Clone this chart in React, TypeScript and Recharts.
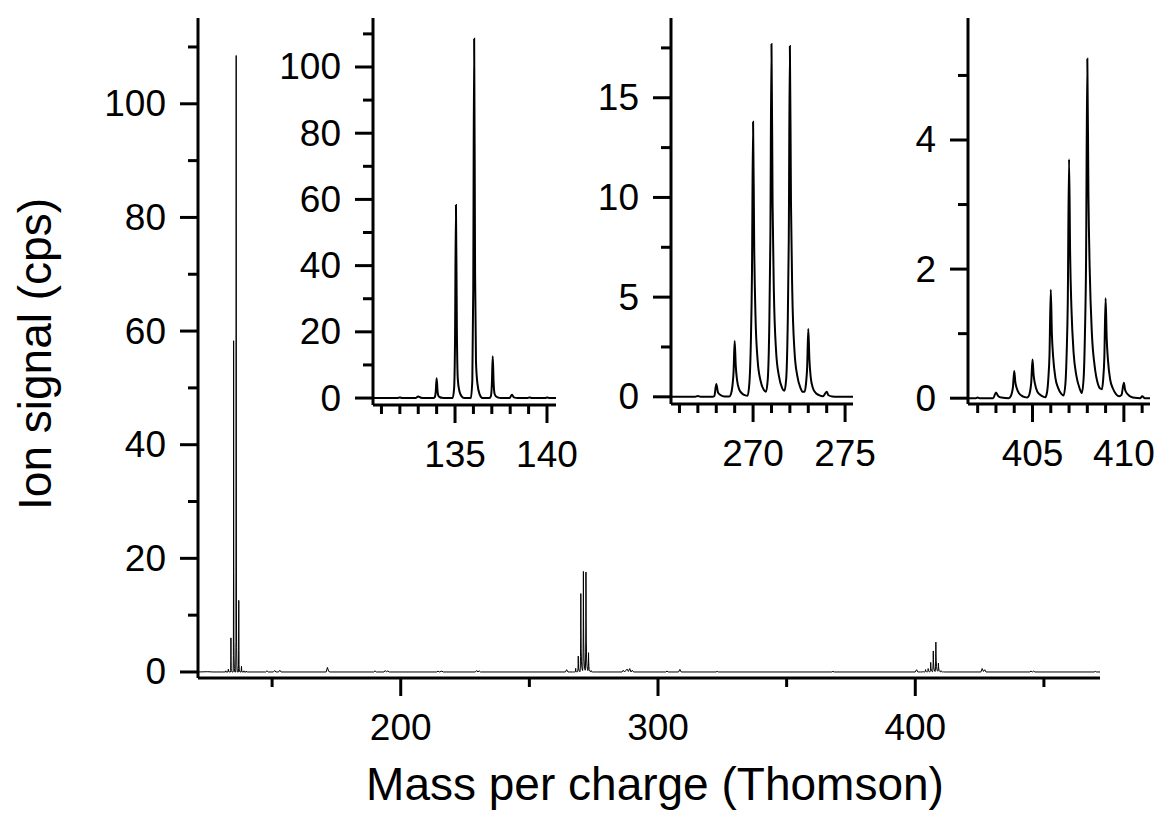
import React from 'react';
import { LineChart, Line, XAxis, YAxis, Label } from 'recharts';

const FONT = '"Liberation Sans", Arial, Helvetica, sans-serif';
const TICK_FS = 37;
const TITLE_FS = 46;

type Pt = [number, number];

// ---- Spectrum data: [mass per charge, ion signal (cps)] ----
const noiseLow: Pt[] = [[121.2, 0], [125, 0.05], [127, 0], [130.4, 0]];

const cluster135: Pt[] = [
  [130.5, 0], [131.85, 0], [132, 0.2], [132.15, 0],
  [132.85, 0], [133, 0.5], [133.15, 0.1], [133.3, 0],
  [133.82, 0], [133.9, 0.3], [133.95, 1.8], [134, 6.0], [134.05, 2.1], [134.1, 0.6], [134.18, 0.24], [134.3, 0.06], [134.45, 0],
  [134.87, 0], [134.95, 2.9], [135.0, 17.5], [135.05, 58.3], [135.1, 20.4], [135.15, 5.8], [135.23, 2.3], [135.35, 0.6], [135.5, 0],
  [135.86, 0], [135.94, 5.4], [135.99, 32.6], [136.04, 108.5], [136.09, 38.0], [136.14, 10.9], [136.22, 4.3], [136.34, 1.1], [136.49, 0],
  [136.87, 0], [136.95, 0.6], [137.0, 3.8], [137.05, 12.6], [137.1, 4.4], [137.15, 1.3], [137.23, 0.5], [137.35, 0.13], [137.5, 0],
  [137.95, 0], [138.1, 1.0], [138.2, 0.2], [138.4, 0],
  [138.95, 0], [139.05, 0.2], [139.2, 0],
  [139.9, 0], [140.0, 0.15], [140.15, 0], [140.5, 0],
];

const noiseMid1: Pt[] = [
  [141, 0], [147.5, 0], [148, 0.2], [148.5, 0], [150.5, 0], [151, 0.25], [151.5, 0], [152.5, 0], [153, 0.3], [153.5, 0],
  [171, 0], [171.5, 0.8], [172, 0.1], [172.5, 0], [189.5, 0], [190, 0.2], [190.5, 0], [193.5, 0], [194, 0.25], [194.5, 0],
  [195, 0.2], [195.5, 0], [214, 0], [214.5, 0.15], [215, 0], [216, 0.15], [216.5, 0], [229, 0], [229.5, 0.25], [230, 0],
  [230.5, 0.2], [231, 0], [264, 0], [264.5, 0.4], [265, 0],
];

const cluster270: Pt[] = [
  [265.5, 0], [266.85, 0], [267, 0.04], [267.15, 0],
  [267.8, 0], [267.9, 0.05], [268, 0.64], [268.1, 0.2], [268.25, 0.08], [268.45, 0.02],
  [268.7, 0.01], [268.8, 0.14], [268.88, 0.56], [268.94, 1.26], [269, 2.8], [269.06, 1.54], [269.13, 0.84], [269.25, 0.36], [269.4, 0.17], [269.58, 0.07],
  [269.7, 0.05], [269.8, 0.7], [269.88, 2.76], [269.94, 6.2], [270, 13.8], [270.06, 7.6], [270.13, 4.1], [270.25, 1.8], [270.4, 0.83], [270.58, 0.35],
  [270.7, 0.25], [270.8, 0.9], [270.88, 3.5], [270.94, 8.0], [271, 17.7], [271.06, 9.7], [271.13, 5.3], [271.25, 2.3], [271.4, 1.06], [271.58, 0.44],
  [271.7, 0.3], [271.8, 0.9], [271.88, 3.5], [271.94, 7.9], [272, 17.6], [272.06, 9.7], [272.13, 5.3], [272.25, 2.3], [272.4, 1.06], [272.58, 0.44],
  [272.7, 0.25], [272.8, 0.25], [272.88, 0.7], [272.94, 1.5], [273, 3.4], [273.06, 1.9], [273.13, 1.0], [273.25, 0.44], [273.4, 0.2], [273.58, 0.09],
  [273.8, 0.03], [274, 0.25], [274.1, 0.08], [274.3, 0.02], [274.6, 0], [275.5, 0],
];

const noiseMid2: Pt[] = [
  [276, 0], [286, 0], [286.5, 0.3], [287, 0], [288, 0.5], [288.5, 0.1], [289, 0.6], [289.5, 0], [290, 0.3], [290.5, 0],
  [303, 0], [303.5, 0.15], [304, 0], [308, 0], [308.5, 0.45], [309, 0], [322.5, 0], [323, 0.1], [323.5, 0],
  [367.5, 0], [368, 0.1], [368.5, 0], [400, 0], [400.5, 0.4], [401, 0],
];

const cluster405: Pt[] = [
  [401.5, 0], [401.9, 0], [402, 0.01], [402.1, 0],
  [402.85, 0], [403, 0.09], [403.13, 0.03], [403.3, 0.01],
  [403.7, 0], [403.8, 0.025], [403.87, 0.08], [403.93, 0.17], [404, 0.42], [404.06, 0.25], [404.13, 0.16], [404.25, 0.08], [404.4, 0.04], [404.58, 0.017],
  [404.7, 0.01], [404.8, 0.036], [404.87, 0.11], [404.93, 0.24], [405, 0.6], [405.06, 0.36], [405.13, 0.23], [405.25, 0.11], [405.4, 0.057], [405.58, 0.024],
  [405.7, 0.015], [405.8, 0.1], [405.87, 0.32], [405.93, 0.67], [406, 1.68], [406.06, 1.0], [406.13, 0.64], [406.25, 0.32], [406.4, 0.16], [406.58, 0.067],
  [406.7, 0.04], [406.8, 0.22], [406.87, 0.7], [406.93, 1.48], [407, 3.7], [407.06, 2.22], [407.13, 1.4], [407.25, 0.7], [407.4, 0.35], [407.58, 0.15],
  [407.7, 0.08], [407.8, 0.32], [407.87, 1.0], [407.93, 2.1], [408, 5.26], [408.06, 3.16], [408.13, 2.0], [408.25, 1.0], [408.4, 0.5], [408.58, 0.22],
  [408.7, 0.15], [408.8, 0.14], [408.87, 0.3], [408.93, 0.62], [409, 1.55], [409.06, 0.93], [409.13, 0.59], [409.25, 0.29], [409.4, 0.15], [409.58, 0.06],
  [409.75, 0.03], [409.87, 0.05], [410, 0.24], [410.06, 0.14], [410.13, 0.09], [410.25, 0.05], [410.4, 0.02], [410.6, 0.005],
  [410.9, 0], [411, 0.03], [411.15, 0], [411.5, 0],
];

const noiseHigh: Pt[] = [
  [412, 0], [425.5, 0], [426, 0.6], [426.5, 0.1], [427, 0.4], [427.5, 0], [444.5, 0], [445, 0.15], [445.5, 0],
  [446, 0.15], [446.5, 0], [469.5, 0], [470, 0.1], [470.5, 0], [471.8, 0],
];

// ---- Axis ticks ----
const mainXTicks = [150, 200, 250, 300, 350, 400, 450];
const mainXLabels = [200, 300, 400];
const mainYTicks = [0, 10, 20, 30, 40, 50, 60, 70, 80, 90, 100, 110];
const mainYLabels = [0, 20, 40, 60, 80, 100];

const in1XTicks = [131, 132, 133, 134, 135, 136, 137, 138, 139, 140];
const in1XLabels = [135, 140];
const in1YTicks = [0, 10, 20, 30, 40, 50, 60, 70, 80, 90, 100, 110];
const in1YLabels = [0, 20, 40, 60, 80, 100];

const in2XTicks = [266, 267, 268, 269, 270, 271, 272, 273, 274, 275];
const in2XLabels = [270, 275];
const in2YTicks = [0, 2.5, 5, 7.5, 10, 12.5, 15, 17.5];
const in2YLabels = [0, 5, 10, 15];

const in3XTicks = [402, 403, 404, 405, 406, 407, 408, 409, 410, 411];
const in3XLabels = [405, 410];
const in3YTicks = [0, 1, 2, 3, 4, 5];
const in3YLabels = [0, 2, 4];

const rows = (pts: Pt[]) => pts.map(([m, s]) => ({ m, s }));

const mainData = rows([
  ...noiseLow, ...cluster135, ...noiseMid1, ...cluster270, ...noiseMid2, ...cluster405, ...noiseHigh,
]);

const makeYTick = (labels: number[]) => (props: any) => {
  const { x, y, payload } = props;
  const major = labels.includes(payload.value);
  const len = major ? 18 : 10;
  return (
    <g>
      <line x1={x} x2={x - len} y1={y} y2={y} stroke="#000" strokeWidth={3} />
      {major && (
        <text x={x - 32} y={y} textAnchor="end" dominantBaseline="central" fontSize={TICK_FS} fontFamily={FONT} fill="#000">
          {payload.value}
        </text>
      )}
    </g>
  );
};

const makeXTick = (labels: number[]) => (props: any) => {
  const { x, y, payload } = props;
  const major = labels.includes(payload.value);
  const len = major ? 18 : 9;
  return (
    <g>
      <line x1={x} x2={x} y1={y} y2={y + len} stroke="#000" strokeWidth={3} />
      {major && (
        <text x={x} y={y + 62} textAnchor="middle" fontSize={TICK_FS} fontFamily={FONT} fill="#000">
          {payload.value}
        </text>
      )}
    </g>
  );
};

const axisLine = { stroke: '#000', strokeWidth: 3 };

type InsetProps = {
  left: number;
  width: number;
  yAxisWidth: number;
  rightMargin: number;
  xAxisHeight: number;
  data: Pt[];
  xDomain: [number, number];
  yDomain: [number, number];
  xTicks: number[];
  xLabels: number[];
  yTicks: number[];
  yLabels: number[];
};

const Inset = (p: InsetProps) => (
  <div style={{ position: 'absolute', left: p.left, top: 0 }}>
    <LineChart
      width={p.width}
      height={490}
      data={rows(p.data)}
      margin={{ top: 18, right: p.rightMargin, bottom: 0, left: 0 }}
    >
      <XAxis
        dataKey="m"
        type="number"
        domain={p.xDomain}
        allowDataOverflow
        ticks={p.xTicks}
        interval={0}
        tickSize={0}
        tickMargin={0}
        height={p.xAxisHeight}
        axisLine={axisLine}
        tickLine={false}
        tick={makeXTick(p.xLabels)}
      />
      <YAxis
        type="number"
        domain={p.yDomain}
        allowDataOverflow
        ticks={p.yTicks}
        interval={0}
        tickSize={0}
        tickMargin={0}
        width={p.yAxisWidth}
        axisLine={axisLine}
        tickLine={false}
        tick={makeYTick(p.yLabels)}
      />
      <Line
        dataKey="s"
        type="monotone"
        stroke="#000"
        strokeWidth={2}
        dot={false}
        activeDot={false}
        isAnimationActive={false}
      />
    </LineChart>
  </div>
);

const XTitle = (props: any) => {
  const vb = props.viewBox || { x: 198, y: 678, width: 902, height: 139 };
  return (
    <text x={vb.x + vb.width / 2 + 6} y={vb.y + 122} textAnchor="middle" fontSize={TITLE_FS} fontFamily={FONT} fill="#000">
      Mass per charge (Thomson)
    </text>
  );
};

const YTitle = (props: any) => {
  const vb = props.viewBox || { x: 0, y: 18, width: 198, height: 660 };
  const cx = vb.x + 35;
  const cy = vb.y + vb.height / 2 + 6;
  return (
    <text
      x={cx}
      y={cy}
      transform={`rotate(-90, ${cx}, ${cy})`}
      textAnchor="middle"
      dominantBaseline="central"
      fontSize={TITLE_FS}
      fontFamily={FONT}
      fill="#000"
    >
      Ion signal (cps)
    </text>
  );
};

export default function App() {
  return (
    <div style={{ position: 'absolute', left: 0, top: 0, width: 1157, height: 817, background: '#fff', overflow: 'hidden' }}>
      <div style={{ position: 'absolute', left: 0, top: 0 }}>
        <LineChart width={1157} height={817} data={mainData} margin={{ top: 18, right: 57, bottom: 0, left: 0 }}>
          <XAxis
            dataKey="m"
            type="number"
            domain={[121.2, 471.8]}
            allowDataOverflow
            ticks={mainXTicks}
            interval={0}
            tickSize={0}
            tickMargin={0}
            height={139}
            axisLine={axisLine}
            tickLine={false}
            tick={makeXTick(mainXLabels)}
          >
            <Label content={<XTitle />} />
          </XAxis>
          <YAxis
            type="number"
            domain={[-1.06, 115.1]}
            allowDataOverflow
            ticks={mainYTicks}
            interval={0}
            tickSize={0}
            tickMargin={0}
            width={198}
            axisLine={axisLine}
            tickLine={false}
            tick={makeYTick(mainYLabels)}
          >
            <Label content={<YTitle />} />
          </YAxis>
          <Line
            dataKey="s"
            type="linear"
            stroke="#000"
            strokeWidth={1}
            dot={false}
            activeDot={false}
            isAnimationActive={false}
          />
        </LineChart>
      </div>
      <Inset
        left={260}
        width={330}
        yAxisWidth={113}
        rightMargin={34}
        xAxisHeight={85}
        data={cluster135}
        xDomain={[130.54, 140.49]}
        yDomain={[-2.1, 114.8]}
        xTicks={in1XTicks}
        xLabels={in1XLabels}
        yTicks={in1YTicks}
        yLabels={in1YLabels}
      />
      <Inset
        left={580}
        width={310}
        yAxisWidth={91}
        rightMargin={37}
        xAxisHeight={86}
        data={cluster270}
        xDomain={[265.54, 275.43]}
        yDomain={[-0.36, 19.0]}
        xTicks={in2XTicks}
        xLabels={in2XLabels}
        yTicks={in2YTicks}
        yLabels={in2YLabels}
      />
      <Inset
        left={880}
        width={277}
        yAxisWidth={88}
        rightMargin={7}
        xAxisHeight={86}
        data={cluster405}
        xDomain={[401.47, 411.43]}
        yDomain={[-0.09, 5.89]}
        xTicks={in3XTicks}
        xLabels={in3XLabels}
        yTicks={in3YTicks}
        yLabels={in3YLabels}
      />
    </div>
  );
}
